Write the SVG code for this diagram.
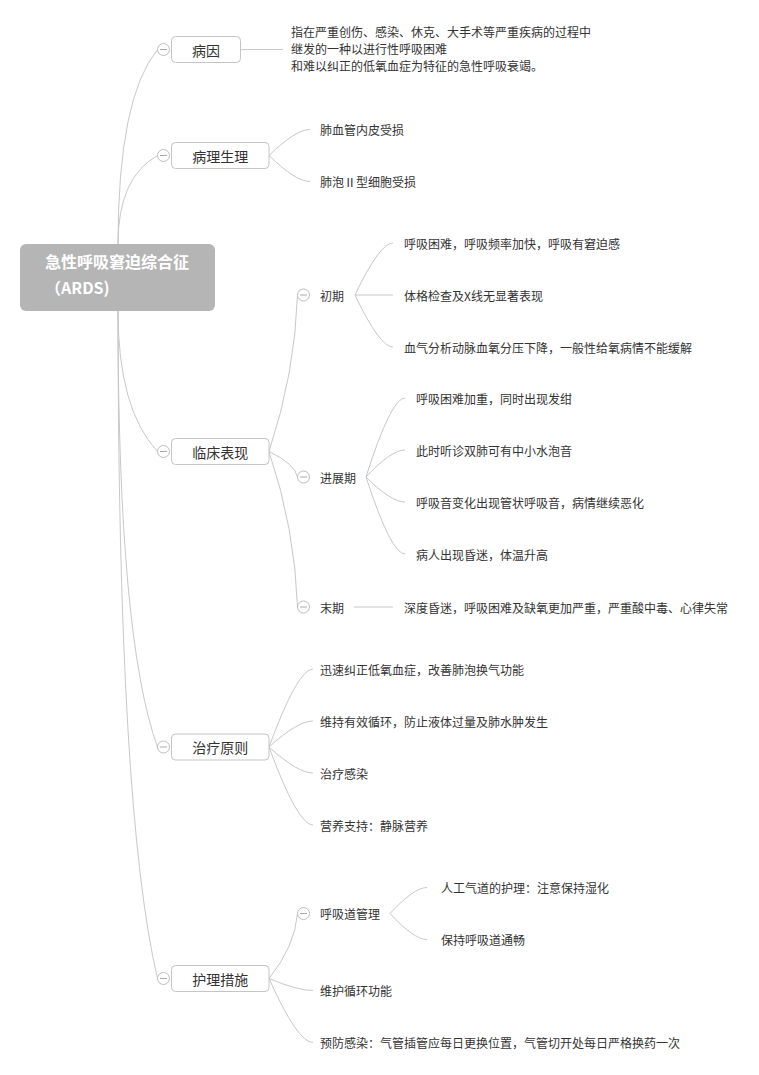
<svg xmlns="http://www.w3.org/2000/svg" width="759" height="1075" viewBox="0 0 759 1075">
<style>
text{font-family:"Noto Sans CJK SC","Liberation Sans",sans-serif;fill:#333;dominant-baseline:central}
.main{font-size:14px;text-anchor:middle}
.leaf{font-size:12px}
.root{font-size:16px;font-weight:bold;fill:#fff;dominant-baseline:auto}
.box{fill:#fff;stroke:#c4c4c4;stroke-width:1}
.tog circle{fill:#fff;stroke:#bdbdbd;stroke-width:1}
.tog line{stroke:#aaa;stroke-width:1}
#connectors path,#connectors line{fill:none;stroke:#c8c8c8;stroke-width:1}
</style>
<rect width="759" height="1075" fill="#fff"/>
<g id="connectors">
<path d="M118,244 Q118,98 157.5,49.5"/>
<path d="M118,244 Q118,177.6 157.5,155.5"/>
<path d="M118,311 Q118,409 157.5,451.5"/>
<path d="M118,311 Q118,638 157.5,747"/>
<path d="M118,311 Q118,811 157.5,978.5"/>
<line x1="241" y1="49.5" x2="283" y2="49.5"/>
<path d="M269,155.5 Q295.6,129.5 310,129.5"/>
<path d="M269,155.5 Q295.6,181.5 310,181.5"/>
<path d="M269,451.5 Q295,373 297.5,295"/>
<path d="M269,451.5 Q295,464 297.5,477"/>
<path d="M269,451.5 Q295,529 297.5,607"/>
<path d="M355,295 Q379.7,243 393,243"/>
<path d="M355,295 L393,295"/>
<path d="M355,295 Q379.7,347 393,347"/>
<path d="M366,477 Q391,398 405,398"/>
<path d="M366,477 Q391,450 405,450"/>
<path d="M366,477 Q391,502 405,502"/>
<path d="M366,477 Q391,554 405,554"/>
<line x1="354" y1="607" x2="393" y2="607"/>
<path d="M269,747 Q297.6,669 313,669"/>
<path d="M269,747 Q297.6,721 313,721"/>
<path d="M269,747 Q297.6,773 313,773"/>
<path d="M269,747 Q297.6,825 313,825"/>
<path d="M269,978.5 Q295,946 297.5,913.5"/>
<path d="M269,978.5 Q297.6,990.5 313,990.5"/>
<path d="M269,978.5 Q297.6,1042.5 313,1042.5"/>
<path d="M390,913.5 Q414,887.5 427,887.5"/>
<path d="M390,913.5 Q414,939.5 427,939.5"/>
</g>
<g id="root">
<rect x="20" y="244" width="195" height="67" rx="6" fill="#b5b5b5"/>
<text class="root" x="45" y="268">急性呼吸窘迫综合征</text>
<text class="root" x="45" y="294">（ARDS)</text>
</g>
<g id="n-bingyin">
<rect class="box" x="171.5" y="36.5" width="69" height="26" rx="4"/>
<text class="main" x="206" y="49.5">病因</text>
<g class="tog"><circle cx="163.5" cy="49.5" r="6"/><line x1="160" y1="49.5" x2="167" y2="49.5"/></g>
</g>
<g id="n-bingyin-desc">
<text class="leaf" x="291" y="31">指在严重创伤、感染、休克、大手术等严重疾病的过程中</text>
<text class="leaf" x="291" y="48">继发的一种以进行性呼吸困难</text>
<text class="leaf" x="291" y="65">和难以纠正的低氧血症为特征的急性呼吸衰竭。</text>
</g>
<g id="n-binglishengli">
<rect class="box" x="171.5" y="142.5" width="97.5" height="26" rx="4"/>
<text class="main" x="220.25" y="155.5">病理生理</text>
<g class="tog"><circle cx="163.5" cy="155.5" r="6"/><line x1="160" y1="155.5" x2="167" y2="155.5"/></g>
</g>
<g id="n-bl-1"><text class="leaf" x="320" y="129.5">肺血管内皮受损</text></g>
<g id="n-bl-2"><text class="leaf" x="320" y="181.5">肺泡Ⅱ型细胞受损</text></g>
<g id="n-linchuang">
<rect class="box" x="171.5" y="438.5" width="97.5" height="26" rx="4"/>
<text class="main" x="220.25" y="451.5">临床表现</text>
<g class="tog"><circle cx="163.5" cy="451.5" r="6"/><line x1="160" y1="451.5" x2="167" y2="451.5"/></g>
</g>
<g id="n-chuqi">
<g class="tog"><circle cx="303.5" cy="295" r="6"/><line x1="300" y1="295" x2="307" y2="295"/></g>
<text class="leaf" x="320" y="295">初期</text>
</g>
<g id="n-cq-1"><text class="leaf" x="404" y="243">呼吸困难，呼吸频率加快，呼吸有窘迫感</text></g>
<g id="n-cq-2"><text class="leaf" x="404" y="295">体格检查及X线无显著表现</text></g>
<g id="n-cq-3"><text class="leaf" x="404" y="347">血气分析动脉血氧分压下降，一般性给氧病情不能缓解</text></g>
<g id="n-jinzhan">
<g class="tog"><circle cx="303.5" cy="477" r="6"/><line x1="300" y1="477" x2="307" y2="477"/></g>
<text class="leaf" x="320" y="477">进展期</text>
</g>
<g id="n-jz-1"><text class="leaf" x="416" y="398">呼吸困难加重，同时出现发绀</text></g>
<g id="n-jz-2"><text class="leaf" x="416" y="450">此时听诊双肺可有中小水泡音</text></g>
<g id="n-jz-3"><text class="leaf" x="416" y="502">呼吸音变化出现管状呼吸音，病情继续恶化</text></g>
<g id="n-jz-4"><text class="leaf" x="416" y="554">病人出现昏迷，体温升高</text></g>
<g id="n-moqi">
<g class="tog"><circle cx="303.5" cy="607" r="6"/><line x1="300" y1="607" x2="307" y2="607"/></g>
<text class="leaf" x="320" y="607">末期</text>
</g>
<g id="n-mq-1"><text class="leaf" x="404" y="607">深度昏迷，呼吸困难及缺氧更加严重，严重酸中毒、心律失常</text></g>
<g id="n-zhiliao">
<rect class="box" x="171.5" y="734" width="97.5" height="26" rx="4"/>
<text class="main" x="220.25" y="747">治疗原则</text>
<g class="tog"><circle cx="163.5" cy="747" r="6"/><line x1="160" y1="747" x2="167" y2="747"/></g>
</g>
<g id="n-zl-1"><text class="leaf" x="320" y="669">迅速纠正低氧血症，改善肺泡换气功能</text></g>
<g id="n-zl-2"><text class="leaf" x="320" y="721">维持有效循环，防止液体过量及肺水肿发生</text></g>
<g id="n-zl-3"><text class="leaf" x="320" y="773">治疗感染</text></g>
<g id="n-zl-4"><text class="leaf" x="320" y="825">营养支持：静脉营养</text></g>
<g id="n-huli">
<rect class="box" x="171.5" y="965.5" width="97.5" height="26" rx="4"/>
<text class="main" x="220.25" y="978.5">护理措施</text>
<g class="tog"><circle cx="163.5" cy="978.5" r="6"/><line x1="160" y1="978.5" x2="167" y2="978.5"/></g>
</g>
<g id="n-huxidao">
<g class="tog"><circle cx="303.5" cy="913.5" r="6"/><line x1="300" y1="913.5" x2="307" y2="913.5"/></g>
<text class="leaf" x="320" y="913.5">呼吸道管理</text>
</g>
<g id="n-hx-1"><text class="leaf" x="441" y="887.5">人工气道的护理：注意保持湿化</text></g>
<g id="n-hx-2"><text class="leaf" x="441" y="939.5">保持呼吸道通畅</text></g>
<g id="n-hl-2"><text class="leaf" x="320" y="990.5">维护循环功能</text></g>
<g id="n-hl-3"><text class="leaf" x="320" y="1042.5">预防感染：气管插管应每日更换位置，气管切开处每日严格换药一次</text></g>
</svg>
